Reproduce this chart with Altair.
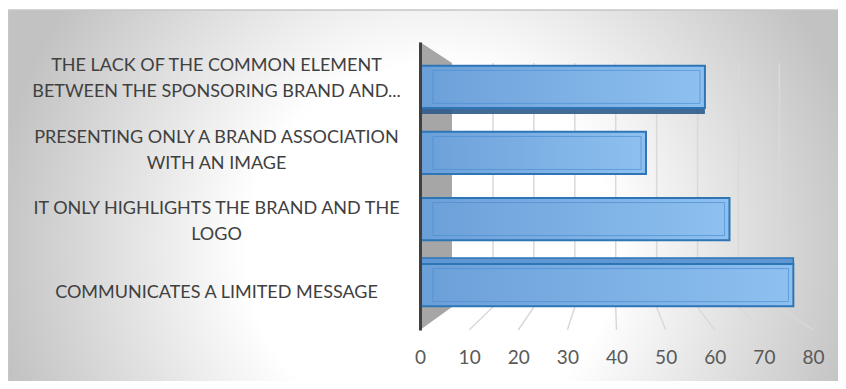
import altair as alt
import pandas as pd

categories = [
    "THE LACK OF THE COMMON ELEMENT\nBETWEEN THE SPONSORING BRAND AND...",
    "PRESENTING ONLY A BRAND ASSOCIATION\nWITH AN IMAGE",
    "IT ONLY HIGHLIGHTS THE BRAND AND THE\nLOGO",
    "COMMUNICATES A LIMITED MESSAGE",
]
values = [58, 46, 63, 76]
x_ticks = [0, 10, 20, 30, 40, 50, 60, 70, 80]

df = pd.DataFrame({"cat": categories, "value": values})
ticks_df = pd.DataFrame({"t": x_ticks})
one = pd.DataFrame({"k": [0]})

W, H = 393, 288
WALL_TOP, WALL_BOTTOM = 21, 265  # back-wall extent (px, plot coords)

bg = alt.Chart(one).mark_rect(
    fill=alt.RadialGradient(
        gradient="radial",
        stops=[
            alt.GradientStop(offset=0, color="#ffffff"),
            alt.GradientStop(offset=0.42, color="#ffffff"),
            alt.GradientStop(offset=1, color="#c2c2c2"),
        ],
        x1=0.5, y1=0.553, r1=0, x2=0.5, y2=0.553, r2=0.52,
    ),
    stroke="#c6c6c6",
    strokeWidth=1.5,
).encode(
    x=alt.value(-411.5), x2=alt.value(W + 40),
    y=alt.value(-32), y2=alt.value(H + 70),
)

# side wall as a trapezoid symbol
wall = alt.Chart(one).mark_point(
    shape="M0,-1 L0.222,-0.854 L0.222,0.840 L0,1 Z",
    filled=True,
    fill="#a6a6a6",
    opacity=1,
    strokeWidth=0,
    size=288 * 288,
).encode(x=alt.value(0), y=alt.value(144))

xsc = alt.Scale(domain=[0, 80], nice=False)
x_axis = alt.Axis(
    title=None,
    values=x_ticks,
    domain=False,
    ticks=False,
    grid=False,
    labelFlush=False,
    labelFont="Lato",
    labelFontSize=19,
    labelColor="#595959",
    labelPadding=18,
    zindex=1,
)

# perspective gridlines: back-wall position of each tick in front-scale units
grid_v = alt.Chart(ticks_df).transform_filter("datum.t > 0").transform_calculate(
    xb="6.52 + 0.833 * datum.t"
).mark_rule(color="#d9d9d9", strokeWidth=1.5).encode(
    x=alt.X("xb:Q", scale=xsc, axis=x_axis),
    y=alt.value(WALL_TOP), y2=alt.value(WALL_BOTTOM),
)
grid_d = alt.Chart(ticks_df).transform_filter("datum.t > 0").transform_calculate(
    xb="6.52 + 0.833 * datum.t"
).mark_rule(color="#d9d9d9", strokeWidth=1.5).encode(
    x=alt.X("xb:Q", scale=xsc, axis=x_axis),
    x2="t:Q",
    y=alt.value(WALL_BOTTOM), y2=alt.value(H),
)

label_offset = {
    "condition": [
        {"test": "indexof(datum.value, 'LACK') >= 0", "value": -21},
        {"test": "indexof(datum.value, 'PRESENTING') >= 0", "value": -15},
        {"test": "indexof(datum.value, 'HIGHLIGHTS') >= 0", "value": -10},
    ],
    "value": 8,
}

y_axis = alt.Axis(
    title=None,
    labelExpr="split(datum.label, '\\n')",
    labelAlign="center",
    labelBaseline="middle",
    labelPadding=204,
    labelOffset=label_offset,
    labelLineHeight=26,
    labelLimit=420,
    labelFont="Lato",
    labelFontSize=18,
    labelColor="#404040",
    ticks=False,
    tickSize=0,
    domain=True,
    domainColor="#404040",
    domainWidth=3,
    grid=False,
    zindex=1,
)
ysc = alt.Scale(paddingInner=0.36, paddingOuter=0.36)

bars = alt.Chart(df).mark_bar(
    fill=alt.LinearGradient(
        gradient="linear",
        stops=[
            alt.GradientStop(offset=0, color="#6b9fd8"),
            alt.GradientStop(offset=1, color="#8ec1f0"),
        ],
        x1=0, x2=1, y1=0, y2=0,
    ),
    stroke="#2e75b6",
    strokeWidth=2,
).encode(
    x=alt.X("value:Q", scale=xsc, axis=x_axis),
    y=alt.Y("cat:N", sort=categories, scale=ysc, axis=y_axis),
)

bevel = alt.Chart(df).transform_calculate(
    lo="2.6", hi="datum.value - 1.0"
).mark_bar(
    fillOpacity=0,
    stroke="#4f8fd3",
    strokeOpacity=0.7,
    strokeWidth=1,
    size=33,
).encode(
    x=alt.X("lo:Q", scale=xsc, axis=x_axis),
    x2="hi:Q",
    y=alt.Y("cat:N", sort=categories, scale=ysc, axis=y_axis),
)

# underside of the top bar and top face of the bottom bar (3-D look)
under = alt.Chart(df).transform_filter(
    alt.FieldEqualPredicate(field="cat", equal=categories[0])
).mark_bar(fill="#2f5b8c", size=6, yOffset=24, opacity=0.9).encode(
    x=alt.X("value:Q", scale=xsc, axis=x_axis),
    y=alt.Y("cat:N", sort=categories, scale=ysc, axis=y_axis),
)
topface = alt.Chart(df).transform_filter(
    alt.FieldEqualPredicate(field="cat", equal=categories[-1])
).mark_bar(fill="#5d97d4", stroke="#2e75b6", strokeWidth=1.5, size=6, yOffset=-24).encode(
    x=alt.X("value:Q", scale=xsc, axis=x_axis),
    y=alt.Y("cat:N", sort=categories, scale=ysc, axis=y_axis),
)

chart = alt.layer(bg, wall, grid_v, grid_d, under, topface, bars, bevel).properties(
    width=W,
    height=H,
    padding={"left": 412, "top": 34, "right": 25, "bottom": 51},
    autosize="none",
    background="white",
).configure_view(strokeWidth=0)

chart.save("out.html", embed_options={"renderer": "svg", "actions": False})
